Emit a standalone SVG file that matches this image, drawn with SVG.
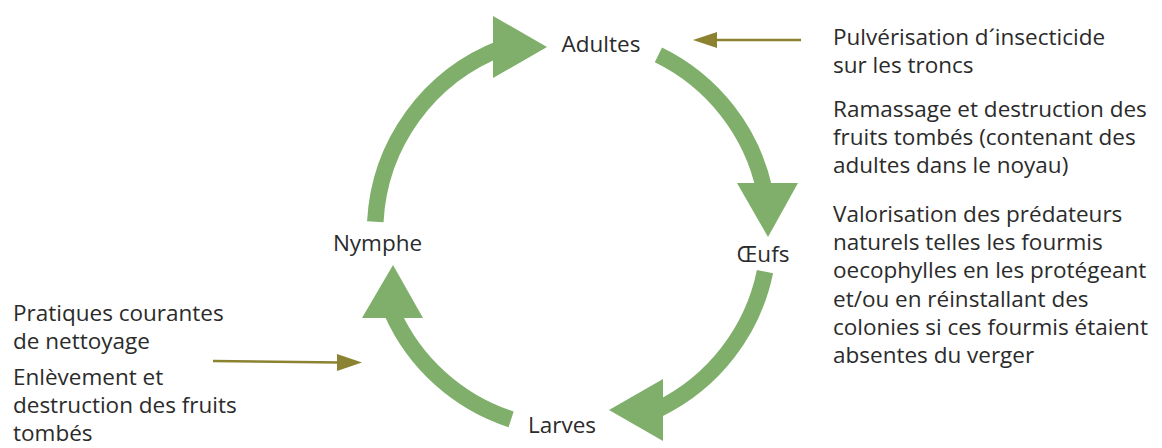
<svg xmlns="http://www.w3.org/2000/svg" width="1162" height="448" viewBox="0 0 1162 448">
<style>
  text { font-family: "Open Sans", "Liberation Sans", sans-serif; font-size: 22.5px; fill: #2b2b2b; }
  .lbl { text-anchor: middle; }
  .cyc { fill: none; stroke: #7faf6b; stroke-width: 16.5; stroke-linecap: butt; }
  .cychead { fill: #7faf6b; }
  .ctl { fill: none; stroke: #8b8232; stroke-width: 2.5; }
  .ctlhead { fill: #8b8232; }
</style>
<rect width="1162" height="448" fill="#ffffff"/>
<g id="connectors">
  <path class="cyc" d="M 375.3 221.7 A 197 197 0 0 1 501.4 48.1"/>
  <polygon class="cychead" points="493,16 493,78 547,47"/>
  <path class="cyc" d="M 658.4 54.9 A 197 197 0 0 1 764.7 191"/>
  <polygon class="cychead" points="737,183 798,183 768,237"/>
  <path class="cyc" d="M 765 271.6 A 197 197 0 0 1 658.4 409"/>
  <polygon class="cychead" points="663,379 663,441 609,410"/>
  <path class="cyc" d="M 511.1 419.4 A 197 197 0 0 1 392 312.1"/>
  <polygon class="cychead" points="362,318 423,318 393,265"/>
  <line class="ctl" x1="801" y1="40" x2="715" y2="40"/>
  <polygon class="ctlhead" points="717,32 717,48 693,40"/>
  <line class="ctl" x1="213" y1="361" x2="340" y2="362.4"/>
  <polygon class="ctlhead" points="337,354 337,371 362,362.5"/>
</g>
<g id="adultes"><text class="lbl" x="601" y="52">Adultes</text></g>
<g id="oeufs"><text class="lbl" x="763" y="262">Œufs</text></g>
<g id="larves"><text class="lbl" x="562" y="433">Larves</text></g>
<g id="nymphe"><text class="lbl" x="377.5" y="251">Nymphe</text></g>
<g id="actions-right">
  <text x="833" y="45">Pulvérisation d´insecticide</text>
  <text x="833" y="73">sur les troncs</text>
  <text x="833" y="117">Ramassage et destruction des</text>
  <text x="833" y="145">fruits tombés (contenant des</text>
  <text x="833" y="173">adultes dans le noyau)</text>
  <text x="833" y="222">Valorisation des prédateurs</text>
  <text x="833" y="250">naturels telles les fourmis</text>
  <text x="833" y="278">oecophylles en les protégeant</text>
  <text x="833" y="307">et/ou en réinstallant des</text>
  <text x="833" y="335">colonies si ces fourmis étaient</text>
  <text x="833" y="363">absentes du verger</text>
</g>
<g id="actions-left">
  <text x="13" y="321">Pratiques courantes</text>
  <text x="13" y="349">de nettoyage</text>
  <text x="13" y="385">Enlèvement et</text>
  <text x="13" y="413">destruction des fruits</text>
  <text x="13" y="441">tombés</text>
</g>
</svg>
